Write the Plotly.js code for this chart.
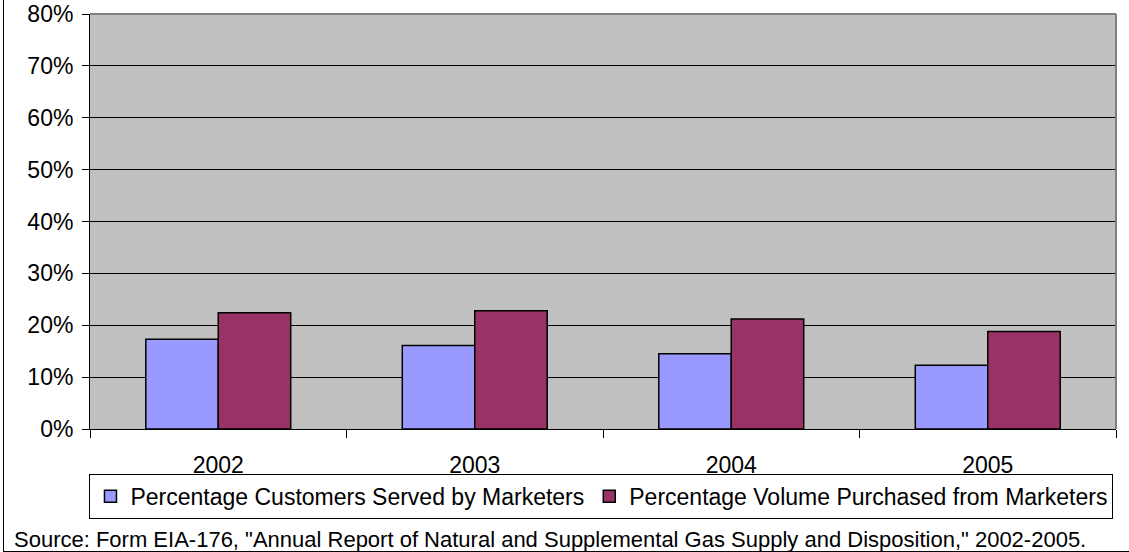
<!DOCTYPE html>
<html>
<head>
<meta charset="utf-8">
<script src="https://cdn.plot.ly/plotly-3.0.1.min.js"></script>
<style>
  html, body { margin: 0; padding: 0; background: #fff; }
  #wrap { position: relative; width: 1129px; height: 552px; overflow: hidden; }
  #chart { width: 1129px; height: 552px; }
  #frame { position: absolute; z-index: 10; left: 3px; top: 0; width: 1200px; height: 552px;
           border-left: 1px solid #000; border-bottom: 1px solid #000; pointer-events: none; box-sizing: border-box; }
</style>
</head>
<body>
<div id="wrap">
  <div id="chart"></div>
  <div id="frame"></div>
</div>
<script>
const years = ['2002', '2003', '2004', '2005'];
const customersServed = [0.173, 0.161, 0.145, 0.123];
const volumePurchased = [0.224, 0.228, 0.212, 0.188];
const seriesNames = ['Percentage Customers Served by Marketers', 'Percentage Volume Purchased from Marketers'];
const yTicks = [0, 0.1, 0.2, 0.3, 0.4, 0.5, 0.6, 0.7, 0.8];
const sourceText = 'Source: Form EIA-176, "Annual Report of Natural and Supplemental Gas Supply and Disposition," 2002-2005.';

const FONT = 'Liberation Sans, Arial, sans-serif';

const traces = [
  {
    type: 'bar', x: years, y: customersServed, name: seriesNames[0],
    marker: { color: '#9999FF', line: { color: '#000', width: 1.5 } },
    hoverinfo: 'skip'
  },
  {
    type: 'bar', x: years, y: volumePurchased, name: seriesNames[1],
    marker: { color: '#993366', line: { color: '#000', width: 1.5 } },
    hoverinfo: 'skip'
  }
];

const layout = {
  width: 1129, height: 552,
  margin: { l: 90, r: 13, t: 14, b: 123, pad: 0 },
  paper_bgcolor: '#ffffff',
  plot_bgcolor: '#C0C0C0',
  barmode: 'group',
  bargap: 0.435,
  bargroupgap: 0,
  font: { family: FONT, size: 23, color: '#000' },
  showlegend: true,
  xaxis: {
    type: 'category',
    showgrid: false, zeroline: false,
    showline: true, linecolor: '#000', linewidth: 1,
    ticks: 'outside', tickson: 'boundaries', ticklen: 8, tickcolor: '#000', tickwidth: 1,
    ticklabelstandoff: 15,
    tickfont: { family: FONT, size: 23, color: '#000' }
  },
  yaxis: {
    range: [0, 0.8],
    tickvals: yTicks, tickformat: '.0%',
    showgrid: true, gridcolor: '#000', gridwidth: 1,
    zeroline: false,
    showline: true, linecolor: '#000', linewidth: 1,
    ticks: 'outside', ticklen: 7, tickcolor: '#000', tickwidth: 1,
    ticklabelstandoff: 4,
    tickfont: { family: FONT, size: 23, color: '#000' }
  },
  legend: {
    orientation: 'h',
    x: 0.4985, xanchor: 'center',
    y: -0.108, yanchor: 'top',
    bgcolor: '#fff', bordercolor: '#000', borderwidth: 1,
    font: { family: FONT, size: 23, color: '#000' },
    itemclick: false, itemdoubleclick: false
  },
  shapes: [
    { type: 'line', xref: 'paper', yref: 'paper', x0: 0, x1: 1, y0: 1, y1: 1, line: { color: '#808080', width: 2 }, layer: 'above' },
    { type: 'line', xref: 'paper', yref: 'paper', x0: 1, x1: 1, y0: 0, y1: 1, line: { color: '#808080', width: 2 }, layer: 'above' }
  ],
  annotations: [
    {
      text: sourceText, xref: 'paper', yref: 'paper',
      x: 0.448, xanchor: 'center', y: -0.267, yanchor: 'middle',
      showarrow: false, font: { family: FONT, size: 22, color: '#000' }
    }
  ]
};

Plotly.newPlot('chart', traces, layout, { displayModeBar: false, staticPlot: true });
</script>
</body>
</html>
